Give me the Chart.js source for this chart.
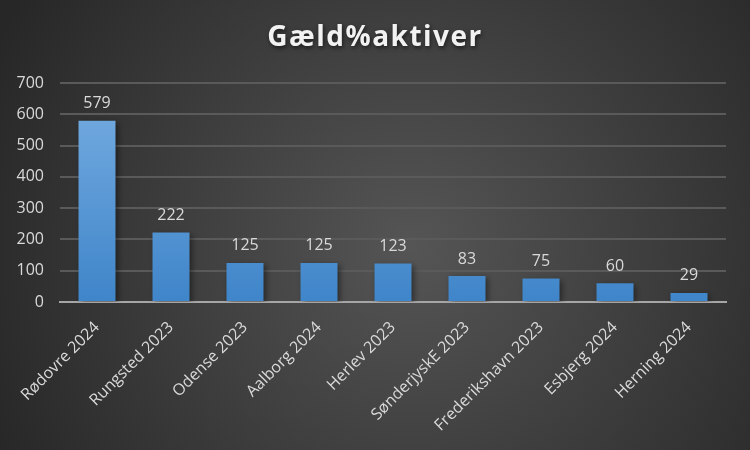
<!DOCTYPE html>
<html>
<head>
<meta charset="utf-8">
<script src="https://cdn.jsdelivr.net/npm/chart.js@4"></script>
<style>
html,body{margin:0;padding:0;background:#2b2b2b;}
#wrap{width:750px;height:450px;position:relative;}
</style>
</head>
<body>
<div id="wrap"><canvas id="c" width="750" height="450"></canvas></div>
<script>
const categories = ["Rødovre 2024","Rungsted 2023","Odense 2023","Aalborg 2024","Herlev 2023","SønderjyskE 2023","Frederikshavn 2023","Esbjerg 2024","Herning 2024"];
const values = [579, 222, 125, 125, 123, 83, 75, 60, 29];
const yTicks = [0, 100, 200, 300, 400, 500, 600, 700];
const titleText = "Gæld%aktiver";

const FONT = "'Open Sans', Lato, sans-serif";

const bgPlugin = {
  id: 'bg',
  beforeDraw(chart) {
    const ctx = chart.ctx;
    const w = chart.width, h = chart.height;
    const g = ctx.createRadialGradient(w*0.55, h*0.55, 0, w*0.55, h*0.55, w*0.62);
    g.addColorStop(0, '#555555');
    g.addColorStop(1, '#272727');
    ctx.save();
    ctx.fillStyle = g;
    ctx.fillRect(0, 0, w, h);
    ctx.restore();
  }
};

const titlePlugin = {
  id: 'customTitle',
  afterDraw(chart) {
    const ctx = chart.ctx;
    ctx.save();
    ctx.font = "bold 28px " + FONT;
    if ('letterSpacing' in ctx) ctx.letterSpacing = '1.5px';
    ctx.fillStyle = '#f2f2f2';
    ctx.textAlign = 'center';
    ctx.textBaseline = 'middle';
    ctx.shadowColor = 'rgba(0,0,0,0.6)';
    ctx.shadowBlur = 4;
    ctx.shadowOffsetX = 1;
    ctx.shadowOffsetY = 2;
    ctx.fillText(titleText, chart.width / 2, 38);
    ctx.restore();
  }
};

const shadowPlugin = {
  id: 'barShadow',
  beforeDatasetsDraw(chart) {
    const ctx = chart.ctx;
    ctx.save();
    ctx.shadowColor = 'rgba(0,0,0,0.45)';
    ctx.shadowBlur = 6;
    ctx.shadowOffsetX = 2;
    ctx.shadowOffsetY = 2;
  },
  afterDatasetsDraw(chart) {
    chart.ctx.restore();
  }
};

const labelPlugin = {
  id: 'valueLabels',
  afterDatasetsDraw(chart) {
    const ctx = chart.ctx;
    const meta = chart.getDatasetMeta(0);
    ctx.save();
    ctx.font = "16px " + FONT;
    ctx.fillStyle = '#d9d9d9';
    ctx.textAlign = 'center';
    ctx.textBaseline = 'bottom';
    meta.data.forEach((bar, i) => {
      ctx.fillText(String(chart.data.datasets[0].data[i]), bar.x, bar.y - 9);
    });
    ctx.restore();
  }
};

const ctx = document.getElementById('c').getContext('2d');
new Chart(ctx, {
  type: 'bar',
  data: {
    labels: categories,
    datasets: [{
      data: values,
      backgroundColor(c) {
        const area = c.chart.chartArea;
        if (!area) return '#5b9bd5';
        const g = c.chart.ctx.createLinearGradient(0, area.top, 0, area.bottom);
        g.addColorStop(0, '#78aee2');
        g.addColorStop(1, '#3f85c9');
        return g;
      },
      borderWidth: 0,
      barPercentage: 0.5,
      categoryPercentage: 1.0
    }]
  },
  options: {
    responsive: false,
    animation: false,
    events: [],
    layout: { padding: { top: 83, right: 24, bottom: 0, left: 0 } },
    plugins: {
      legend: { display: false },
      tooltip: { enabled: false },
      title: { display: false }
    },
    scales: {
      x: {
        grid: { display: false, drawTicks: false },
        border: { display: true, color: '#a6a6a6', width: 2 },
        ticks: {
          color: '#d9d9d9',
          font: { family: FONT, size: 16 },
          minRotation: 45,
          maxRotation: 45,
          padding: 16,
          autoSkip: false
        },
        afterFit(s) { s.height = 148; }
      },
      y: {
        min: 0,
        max: 700,
        afterBuildTicks(s) { s.ticks = yTicks.map(v => ({ value: v })); },
        grid: { color: '#5a5a5a', lineWidth: 2, drawTicks: false },
        border: { display: false },
        ticks: {
          color: '#d9d9d9',
          font: { family: FONT, size: 16 },
          padding: 16
        },
        afterFit(s) { s.width = 60; }
      }
    }
  },
  plugins: [bgPlugin, titlePlugin, shadowPlugin, labelPlugin]
});
</script>
</body>
</html>
